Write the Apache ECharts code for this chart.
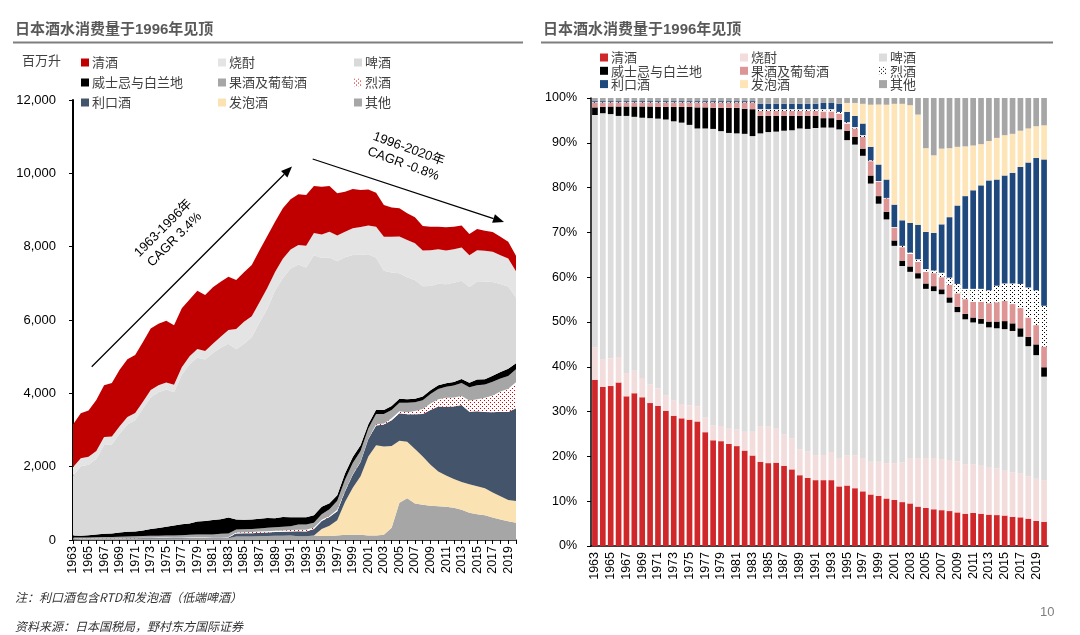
<!DOCTYPE html>
<html><head><meta charset="utf-8">
<script src="https://cdn.jsdelivr.net/npm/echarts@6/dist/echarts.min.js"></script>
<style>
html,body{margin:0;padding:0;background:#fff;}
#wrap{position:relative;width:1080px;height:635px;overflow:hidden;}
#left{position:absolute;left:0;top:0;width:540px;height:635px;}
#right{position:absolute;left:540px;top:0;width:540px;height:635px;}
</style></head><body>
<div id="wrap"><div id="left"></div><div id="right"></div></div>
<script>
// ---------------- DATA ----------------
const years = ['1963','1964','1965','1966','1967','1968','1969','1970','1971','1972','1973','1974','1975','1976','1977','1978','1979','1980','1981','1982','1983','1984','1985','1986','1987','1988','1989','1990','1991','1992','1993','1994','1995','1996','1997','1998','1999','2000','2001','2002','2003','2004','2005','2006','2007','2008','2009','2010','2011','2012','2013','2014','2015','2016','2017','2018','2019','2020'];

// total consumption, million litres (left chart envelope)
const totalVolume = [3150,3455,3530,3820,4220,4280,4640,4930,5045,5400,5770,5900,5980,5860,6320,6560,6800,6680,6890,7040,7180,7090,7300,7500,7900,8290,8680,9045,9290,9430,9410,9655,9636,9655,9455,9500,9570,9545,9560,9470,9136,9070,9045,8910,8800,8565,8545,8545,8527,8545,8580,8345,8480,8435,8400,8270,8135,7750];

// shares, % of total (right chart)
const shareSake = [37.1,35.5,35.7,36.5,33.4,34.1,33.2,31.9,31.3,30.2,29.1,28.5,28.2,27.8,25.4,23.6,23.4,22.8,22.3,21.3,20.2,18.8,18.5,18.6,17.9,17.1,15.8,15.2,14.7,14.7,14.7,13.3,13.5,12.9,12.2,11.5,11.2,10.6,10.3,9.8,9.5,8.8,8.5,8.2,8.0,7.8,7.5,7.2,7.4,7.2,7.0,6.9,6.8,6.5,6.4,6.1,5.6,5.4];
const shareShochu = [7.2,6.2,6.2,5.7,5.2,5.0,4.3,4.2,3.9,3.4,3.4,3.2,3.2,3.4,3.3,3.3,3.4,3.5,3.7,4.2,5.3,7.8,8.2,7.7,7.0,6.9,5.8,5.9,5.6,5.6,6.3,6.3,6.7,7.3,7.4,7.3,7.6,7.9,8.2,8.9,10.1,10.8,11.1,11.4,11.4,11.4,11.4,11.0,10.8,10.7,10.6,10.4,10.0,9.9,9.8,9.5,9.4,9.3];
const shareBeer = [51.9,54.9,54.5,53.8,57.4,56.7,58.1,59.4,60.2,61.6,62.3,62.8,62.6,62.0,64.5,66.2,65.8,65.9,66.1,66.5,66.0,65.5,65.7,66.2,67.8,68.8,71.6,72.0,73.0,73.1,72.4,73.4,70.4,69.4,67.5,62.1,57.6,54.4,48.5,43.8,41.6,40.1,37.8,37.3,36.8,35.1,33.3,32.4,31.7,31.7,31.2,31.3,31.6,31.6,30.5,29.0,27.6,23.1];
const shareWhisky = [1.7,1.4,1.7,2.1,2.1,2.3,2.5,2.6,2.6,2.8,3.2,3.5,4.0,4.7,4.7,4.7,5.2,5.6,5.7,5.6,6.0,3.9,3.6,3.5,3.3,3.2,2.8,2.9,2.7,2.1,2.1,2.1,2.1,1.7,1.6,1.8,1.7,1.7,1.2,1.2,1.2,1.2,1.2,1.1,1.1,1.2,1.2,1.2,1.1,1.1,1.3,1.5,1.8,1.7,1.9,2.1,2.4,2.1];
const shareFruitWine = [1.0,0.9,0.8,0.8,0.8,0.8,0.8,0.8,0.9,0.9,0.9,0.9,0.9,1.0,1.0,1.1,1.1,1.1,1.1,1.3,1.4,1.1,1.1,1.1,1.1,1.1,1.1,1.1,1.1,1.5,1.5,1.4,1.6,1.9,2.6,3.2,3.2,3.0,2.9,3.0,2.8,2.5,2.6,2.9,2.7,2.8,3.0,3.3,3.5,3.8,4.1,4.3,4.5,4.3,4.5,4.3,4.3,4.6];
const shareSpirits = [0.15,0.15,0.15,0.15,0.15,0.15,0.15,0.15,0.15,0.15,0.15,0.15,0.15,0.15,0.15,0.15,0.15,0.15,0.15,0.15,0.15,0.4,0.4,0.4,0.4,0.4,0.4,0.4,0.4,0.5,0.5,0.4,0.3,0.3,0.4,0.2,0.15,0.1,0.1,0.3,0.3,0.6,0.6,0.6,1.0,1.6,2.1,2.3,2.9,2.9,2.9,3.7,3.9,4.6,5.4,6.7,7.8,9.1];
const shareLiqueur = [0.25,0.25,0.25,0.25,0.25,0.25,0.25,0.25,0.25,0.25,0.25,0.25,0.25,0.25,0.25,0.25,0.25,0.25,0.25,0.25,0.25,1.2,1.2,1.2,1.2,1.2,1.2,1.2,1.2,1.4,1.4,1.8,2.3,2.5,2.6,3.0,3.7,4.1,5.0,5.7,6.6,7.7,8.3,8.4,10.8,13.5,17.5,20.7,22.0,23.1,24.5,23.7,24.1,24.7,26.1,27.9,29.5,32.7];
const shareHapposhu = [0,0,0,0,0,0,0,0,0,0,0,0,0,0,0,0,0,0,0,0,0,0,0,0,0,0,0,0,0,0,0,0,2.0,2.9,4.4,9.4,13.4,16.7,22.5,26.0,26.3,24.6,18.7,17.3,16.9,15.4,13.1,11.1,10.0,9.2,8.8,9.3,9.0,8.7,8.1,7.6,7.1,7.6];
const shareOther = [0.7,0.7,0.7,0.7,0.7,0.7,0.7,0.7,0.7,0.7,0.7,0.7,0.7,0.7,0.7,0.7,0.7,0.7,0.7,0.7,0.7,1.3,1.3,1.3,1.3,1.3,1.3,1.3,1.3,1.1,1.1,1.3,1.1,1.1,1.3,1.5,1.5,1.5,1.3,1.3,1.6,3.7,11.2,12.8,11.3,11.2,10.9,10.8,10.6,10.3,9.6,8.9,8.3,8.0,7.3,6.8,6.3,6.1];

const seriesNames = ['清酒','烧酎','啤酒','威士忌与白兰地','果酒及葡萄酒','烈酒','利口酒','发泡酒','其他'];
const chartTitle = '日本酒水消费量于1996年见顶';

// ---------------- STYLE HELPERS ----------------
const CJK = '"Noto Sans CJK SC"';
const LAT = '"Liberation Sans", Arial, "Noto Sans CJK SC"';
function dotPattern(color, size, pts){
  const c = document.createElement('canvas'); c.width = size; c.height = size;
  const g = c.getContext('2d'); g.fillStyle = '#fff'; g.fillRect(0,0,size,size);
  g.fillStyle = color; pts.forEach(p => g.fillRect(p[0], p[1], 1, 1));
  return {image: c, repeat: 'repeat'};
}
const redDots = dotPattern('#e00000', 4, [[0,0],[2,2]]);
const blackDots = dotPattern('#000000', 4, [[0,0],[2,2]]);

function arrow(x1,y1,x2,y2){
  const a = Math.atan2(y2-y1, x2-x1), L = 11, W = 4.5;
  const bx = x2 - L*Math.cos(a), by = y2 - L*Math.sin(a);
  return [
    {type:'line', silent:true, shape:{x1:x1,y1:y1,x2:bx,y2:by}, style:{stroke:'#000',lineWidth:1.3}},
    {type:'polygon', silent:true, shape:{points:[[x2,y2],[bx+W*Math.sin(a), by-W*Math.cos(a)],[bx-W*Math.sin(a), by+W*Math.cos(a)]]}, style:{fill:'#000'}}
  ];
}
function legendCols(cols, lefts, top, gap){
  return cols.map((c,k) => ({
    orient:'vertical', left: lefts[k], top: top, itemGap: gap, itemWidth: 8, itemHeight: 8,
    icon:'rect', selectedMode:false, data: c, padding: 0,
    textStyle:{fontFamily: CJK, fontSize: 13, color:'#404040', lineHeight: 13, padding:[0,0,0,-2]}
  }));
}
function titleGraphics(x, lineX1, lineX2){
  return [
    {type:'text', x:x, y:30, silent:true, style:{text: chartTitle, font:'bold 15px ' + LAT, fill:'#595959', verticalAlign:'middle'}},
    {type:'line', silent:true, shape:{x1:lineX1, y1:42.5, x2:lineX2, y2:42.5}, style:{stroke:'#7f7f7f', lineWidth:2.2}}
  ];
}

// ---------------- LEFT CHART ----------------
const leftDefs = [
  ['其他', shareOther, '#a6a6a6'],
  ['发泡酒', shareHapposhu, '#fbe2b3'],
  ['利口酒', shareLiqueur, '#44546a'],
  ['烈酒', shareSpirits, redDots],
  ['果酒及葡萄酒', shareFruitWine, '#a6a6a6'],
  ['威士忌与白兰地', shareWhisky, '#000000'],
  ['啤酒', shareBeer, '#d9d9d9'],
  ['烧酎', shareShochu, '#e4e4e4'],
  ['清酒', shareSake, '#c00000']
];
const left = echarts.init(document.getElementById('left'));
left.setOption({
  animation:false,
  grid:{left:73, right:24, top:100, bottom:95},
  legend: legendCols([['清酒','威士忌与白兰地','利口酒'],['烧酎','果酒及葡萄酒','发泡酒'],['啤酒','烈酒','其他']], [81,218,354], 56, 7),
  xAxis:{type:'category', data: years, boundaryGap:false,
    axisLine:{lineStyle:{color:'#000', width:1.5}},
    axisTick:{interval:0, length:4, lineStyle:{color:'#000'}},
    axisLabel:{interval:1, rotate:90, fontFamily:LAT, fontSize:12.5, color:'#000', margin:6}},
  yAxis:{type:'value', min:0, max:12000, interval:2000,
    axisLine:{show:true, lineStyle:{color:'#000', width:2}},
    axisTick:{show:true, length:4, lineStyle:{color:'#000'}},
    splitLine:{show:false},
    axisLabel:{fontFamily:LAT, fontSize:13, color:'#000', margin:17,
      formatter: v => v.toLocaleString('en-US')}},
  series: leftDefs.map(d => ({
    name:d[0], type:'line', stack:'vol', symbol:'none', silent:true,
    lineStyle:{width:0}, itemStyle:{color:d[2]}, areaStyle:{color:d[2], opacity:1},
    data: d[1].map((s,i) => +(s*totalVolume[i]/100).toFixed(1))
  })),
  graphic: [].concat(
    titleGraphics(15, 13, 523),
    [{type:'text', x:22, y:60, silent:true, style:{text:'百万升', font:'13px ' + CJK, fill:'#404040', verticalAlign:'middle'}}],
    arrow(91.7, 366.7, 292, 166.5),
    arrow(312.7, 159, 504, 222),
    [
      {type:'text', x:169, y:234, rotation: Math.PI/4, silent:true,
        style:{text:'1963-1996年\nCAGR 3.4%', font:'13px ' + LAT, fill:'#000', align:'center', verticalAlign:'middle', lineHeight:16}},
      {type:'text', x:406, y:156.5, rotation: -0.35, silent:true,
        style:{text:'1996-2020年\nCAGR -0.8%', font:'13px ' + LAT, fill:'#000', align:'center', verticalAlign:'middle', lineHeight:16}},
      {type:'text', x:15, y:597, silent:true, style:{text:'注：利口酒包含RTD和发泡酒（低端啤酒）', font:'italic 12px ' + CJK, fill:'#333', verticalAlign:'middle'}},
      {type:'text', x:15, y:626, silent:true, style:{text:'资料来源：日本国税局，野村东方国际证券', font:'italic 12px ' + CJK, fill:'#333', verticalAlign:'middle'}}
    ]
  )
});

// ---------------- RIGHT CHART ----------------
const rightDefs = [
  ['清酒', shareSake, '#d0282a'],
  ['烧酎', shareShochu, '#f3dcdc'],
  ['啤酒', shareBeer, '#dcdcdc'],
  ['威士忌与白兰地', shareWhisky, '#000000'],
  ['果酒及葡萄酒', shareFruitWine, '#dd9695'],
  ['烈酒', shareSpirits, blackDots],
  ['利口酒', shareLiqueur, '#1f497d'],
  ['发泡酒', shareHapposhu, '#fde5b8'],
  ['其他', shareOther, '#a6a6a6']
];
const right = echarts.init(document.getElementById('right'));
right.setOption({
  animation:false,
  grid:{left:51, right:32, top:98, bottom:89},
  legend: legendCols([['清酒','威士忌与白兰地','利口酒'],['烧酎','果酒及葡萄酒','发泡酒'],['啤酒','烈酒','其他']], [60,200,339], 51, 0.3),
  xAxis:{type:'category', data: years,
    axisLine:{lineStyle:{color:'#000', width:1.5}},
    axisTick:{interval:0, length:4, lineStyle:{color:'#000'}},
    axisLabel:{interval:1, rotate:90, fontFamily:LAT, fontSize:12.5, color:'#000', margin:6}},
  yAxis:{type:'value', min:0, max:100, interval:10,
    axisLine:{show:true, lineStyle:{color:'#000', width:1.5}},
    axisTick:{show:true, length:4, lineStyle:{color:'#000'}},
    splitLine:{show:false},
    axisLabel:{fontFamily:LAT, fontSize:12.5, color:'#000', margin:14, formatter:'{value}%'}},
  series: rightDefs.map(d => ({
    name:d[0], type:'bar', stack:'share', silent:true, barCategoryGap:'28%',
    itemStyle:{color:d[2]}, data: d[1]
  })),
  graphic: [].concat(
    titleGraphics(3, 1, 513),
    [{type:'text', x:500, y:612, silent:true, style:{text:'10', font:'13px ' + LAT, fill:'#7f7f7f', verticalAlign:'middle'}}]
  )
});
</script>
</body></html>
